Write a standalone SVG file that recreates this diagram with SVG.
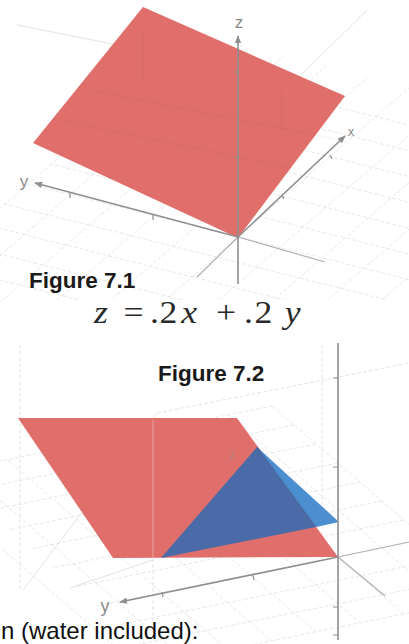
<svg xmlns="http://www.w3.org/2000/svg" width="409" height="644" viewBox="0 0 409 644">
<style>
.grid{stroke:#e2e2e2;stroke-width:0.8;fill:none;stroke-dasharray:4 2}
.box{stroke:#dcdcdc;stroke-width:0.8;fill:none}
.axis{stroke:#8f8f8f;stroke-width:1.6;fill:none}
.axis2{stroke:#b0b0b0;stroke-width:1.2;fill:none}
.tick{stroke:#8f8f8f;stroke-width:1.2}
.red{fill:#e06f6c}
.lab{font-family:"Liberation Sans",Arial,sans-serif;fill:#8a8a8a}
.fig{font-family:"Liberation Sans",Arial,sans-serif;font-weight:bold;font-size:22.5px;fill:#1a1a1a}
.eq{font-family:"Liberation Serif","Times New Roman",serif;font-size:31px;fill:#2a2a2a}
.sub{font-family:"Liberation Sans",Arial,sans-serif;font-size:24px;fill:#111}
</style>
<defs>
<marker id="arr" viewBox="0 0 10 10" refX="9" refY="5" markerWidth="5" markerHeight="5" orient="auto">
<path d="M0,1 L10,5 L0,9 z" fill="#8f8f8f"/>
</marker>
<clipPath id="top"><rect x="0" y="0" width="409" height="300"/></clipPath>
<clipPath id="bot"><rect x="0" y="340" width="409" height="304"/></clipPath>
</defs>

<!-- Figure 7.1 -->
<g id="figure1">
<g clip-path="url(#top)">
<path class="grid" d="M398,380 L-64,264 M421,360 L-41,244 M444,340 L-18,224 M467,320 L5,204 M490,300 L28,184 M513,280 L51,164 M536,260 L74,144 M559,240 L97,124 M582,220 L120,104 M605,200 L143,84 M628,180 L166,64"/>
<path class="grid" d="M291,379 L579,129 M249,368 L537,118 M207,358 L495,108 M165,347 L453,97 M123,337 L410,87 M81,326 L368,77 M39,316 L326,66 M-3,305 L284,56 M-45,295 L242,45 M-87,284 L200,35"/>
<path class="box" d="M17,25 L143,50 M367,10 L283,93"/>
</g>
<polygon class="red" points="143,7 345,96 238,238 33,143"/>
<path d="M143,33 L143,83 M282,90 L282,130 M90,90 L340,140 M60,120 L300,170" stroke="#000" stroke-opacity="0.04" stroke-width="1" fill="none"/>
<line class="axis2" x1="238" y1="237" x2="197" y2="277"/>
<line class="axis2" x1="238" y1="237" x2="325" y2="262"/>
<line class="axis" x1="238" y1="284" x2="238" y2="36" marker-end="url(#arr)"/>
<line class="axis" x1="238" y1="237" x2="35" y2="183" marker-end="url(#arr)"/>
<line class="axis" x1="238" y1="237" x2="345" y2="136" marker-end="url(#arr)"/>
<path class="tick" d="M234,72 L238,72 M234,157 L238,157 M70,193 L70,198 M153,215 L153,220 M282,195 L284,199 M330,155 L332,159"/>
<text class="lab" x="239" y="28" font-size="17" text-anchor="middle">z</text>
<text class="lab" x="24" y="187" font-size="17" text-anchor="middle">y</text>
<text class="lab" x="351" y="136" font-size="13" text-anchor="middle">x</text>
<text class="fig" x="29" y="288">Figure 7.1</text>
</g>

<!-- equation -->
<g id="equation" transform="scale(1.15,1)">
<text class="eq" y="323"><tspan x="87.8" text-anchor="middle" font-style="italic">z</tspan><tspan x="116.1" text-anchor="middle">=</tspan><tspan x="134.3" text-anchor="middle">.</tspan><tspan x="146.5" text-anchor="middle">2</tspan><tspan x="164.5" text-anchor="middle" font-style="italic">x</tspan><tspan x="196.5" text-anchor="middle">+</tspan><tspan x="216" text-anchor="middle">.</tspan><tspan x="229" text-anchor="middle">2</tspan><tspan x="254.5" text-anchor="middle" font-style="italic">y</tspan></text>
</g>

<!-- Figure 7.2 -->
<g id="figure2">
<g clip-path="url(#bot)">
<path class="box" d="M20,345 L20,590 M322,345 L322,560 M153,420 L153,625 M157,413 L409,363" stroke-dasharray="4 2"/>
<path class="box" d="M23,590 L157,413 M70,588 L153,560"/>
<path class="grid" d="M272,406 L-58,473 M294,425 L-36,492 M316,444 L-14,511 M338,463 L8,530 M360,482 L30,549 M382,501 L52,568 M404,520 L74,587 M426,539 L96,606 M448,558 L118,625 M470,577 L140,644 M492,596 L162,663"/>
<path class="grid" d="M272,406 L492,596 M228,415 L448,605 M184,424 L404,614 M140,433 L360,623 M96,442 L316,632 M52,451 L272,641 M8,460 L228,650 M-36,469 L184,659 M-80,478 L140,668"/>
</g>
<polygon class="red" points="18,418 237,418 338,557 113,558"/>
<line x1="153" y1="420" x2="153" y2="558" stroke="#eba3a1" stroke-width="1"/>
<polygon points="257,447 316,527 161,558" fill="#4a6ba7"/>
<polygon points="257,447 339,522 316,527" fill="#4b8fd1"/>
<line x1="257" y1="447" x2="316" y2="527" stroke="#3e5f98" stroke-width="1.5" stroke-opacity="0.5"/>
<text class="lab" x="232" y="459" font-size="11" text-anchor="middle" fill="#7a5a6a" opacity="0.6">z</text>
<line class="axis2" x1="338" y1="557" x2="409" y2="542"/>
<line class="axis2" x1="338" y1="557" x2="385" y2="596"/>
<line class="axis" x1="338" y1="640" x2="338" y2="343"/>
<line class="axis" x1="338" y1="557" x2="120" y2="602" marker-end="url(#arr)"/>
<path class="tick" d="M333,378 L338,378 M333,467 L338,467 M333,607 L338,607 M333,635 L338,635 M253,575 L254,580 M162,592 L163,597"/>
<text class="lab" x="105" y="612" font-size="18" text-anchor="middle">y</text>
<text class="fig" x="158" y="381">Figure 7.2</text>
</g>

<text class="sub" x="1" y="639">n (water included):</text>
</svg>
